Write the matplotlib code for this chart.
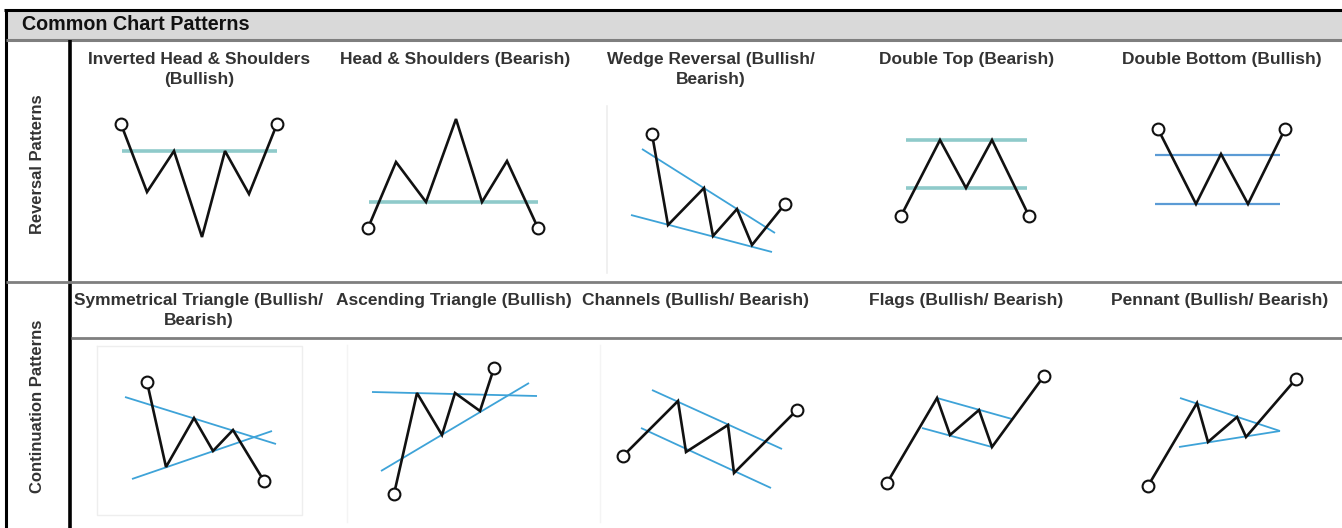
import matplotlib
matplotlib.use("Agg")
import matplotlib.pyplot as plt

plt.rcParams['font.family'] = ['Liberation Sans', 'DejaVu Sans']

# ---------------- data ----------------
header_title = "Common Chart Patterns"
row_labels = ["Reversal Patterns", "Continuation Patterns"]

row1_titles = ["Inverted Head & Shoulders\n(Bullish)", "Head & Shoulders (Bearish)",
               "Wedge Reversal (Bullish/\nBearish)", "Double Top (Bearish)",
               "Double Bottom (Bullish)"]
row2_titles = ["Symmetrical Triangle (Bullish/\nBearish)", "Ascending Triangle (Bullish)",
               "Channels (Bullish/ Bearish)", "Flags (Bullish/ Bearish)",
               "Pennant (Bullish/ Bearish)"]

# price paths (x, y in diagram pixel units, y downward)
inv_hs_path = [(121, 124), (147, 192), (174, 151), (202, 237), (225, 151), (249, 194), (277, 124)]
hs_path = [(368, 228), (396, 162), (426, 202), (456, 119), (482, 202), (507, 161), (538, 228)]
wedge_path = [(652, 134), (668, 225), (704, 188), (713, 236), (737, 209), (752, 245), (785, 204)]
dtop_path = [(901, 216), (940, 140), (966, 188), (992, 140), (1029, 216)]
dbottom_path = [(1158, 129), (1196, 204), (1221, 154), (1248, 204), (1285, 129)]
symtri_path = [(147, 382), (166, 467), (194, 418), (213, 451), (233, 430), (264, 481)]
asctri_path = [(394, 494), (417, 393), (442, 435), (455, 393), (480, 411), (494, 368)]
channel_path = [(623, 456), (678, 401), (686, 452), (728, 425), (734, 473), (797, 410)]
flag_path = [(887, 483), (937, 398), (950, 435), (979, 410), (992, 447), (1044, 376)]
pennant_path = [(1148, 486), (1197, 403), (1208, 442), (1237, 417), (1246, 437), (1296, 379)]

# guide lines: ((x0, y0), (x1, y1))
inv_hs_guides = [((122, 151), (277, 151))]
hs_guides = [((369, 202), (538, 202))]
wedge_guides = [((642, 149), (775, 233)), ((631, 215), (772, 252))]
dtop_guides = [((906, 140), (1027, 140)), ((906, 188), (1027, 188))]
dbottom_guides = [((1155, 155), (1280, 155)), ((1155, 204), (1280, 204))]
symtri_guides = [((125, 397), (276, 444)), ((132, 479), (272, 431))]
asctri_guides = [((372, 392), (537, 396)), ((381, 471), (529, 383))]
channel_guides = [((652, 390), (782, 449)), ((641, 428), (771, 488))]
flag_guides = [((937, 398), (1012, 419)), ((922, 428), (992, 447))]
pennant_guides = [((1180, 398), (1280, 431)), ((1179, 447), (1280, 431))]

# ---------------- styles ----------------
W, H = 1342, 528
TEAL = "#8fcaca"
BLUE = "#3ea3d8"
BLUE2 = "#5b9bd5"
TEXT = "#333333"
LINE_GRAY = "#7f7f7f"

fig = plt.figure(figsize=(W / 100, H / 100), dpi=100)
ax = fig.add_axes([0, 0, 1, 1])
ax.set_xlim(0, W)
ax.set_ylim(H, 0)
ax.axis("off")

# header band
ax.fill_between([6, W], 10, 39, color="#d9d9d9", lw=0, zorder=0)
ax.text(22, 25, header_title, fontsize=14.2, fontweight="bold", color="#111111",
        ha="left", va="center")

# frame lines
ax.plot([4, W], [9.5, 9.5], color="black", lw=2.2, solid_capstyle="butt")
ax.plot([5.5, 5.5], [8.5, H], color="black", lw=2.2, solid_capstyle="butt")
ax.plot([6, W], [40, 40], color=LINE_GRAY, lw=2.2, solid_capstyle="butt")
ax.plot([70, 70], [40, H], color="black", lw=2.6, solid_capstyle="butt")
ax.plot([6, W], [281.5, 281.5], color=LINE_GRAY, lw=2.0, solid_capstyle="butt")
ax.plot([71, W], [337.5, 337.5], color=LINE_GRAY, lw=2.0, solid_capstyle="butt")

# faint image borders
faint = "#eeeeee"
ax.plot([607, 607], [106, 273], color=faint, lw=1.2)
ax.plot([97, 302, 302, 97, 97], [346, 346, 515, 515, 346], color=faint, lw=1.0)
ax.plot([347, 347], [345, 522], color="#f4f4f4", lw=1.0)
ax.plot([600, 600], [345, 522], color="#f4f4f4", lw=1.0)

# row labels
ax.text(38, 164, row_labels[0], rotation=90, fontsize=11.9, fontweight="bold",
        color=TEXT, ha="center", va="center")
ax.text(38, 406, row_labels[1], rotation=90, fontsize=12.0, fontweight="bold",
        color=TEXT, ha="center", va="center")

# titles
row1_cx = [199, 455, 711, 967, 1222]
row2_cx = [199, 454, 695, 966, 1220]
for t, cx in zip(row1_titles, row1_cx):
    ax.text(cx, 52, t, fontsize=12.5, fontweight="bold", color=TEXT, ha="center",
            va="top", multialignment="center", linespacing=1.4)
for t, cx in zip(row2_titles, row2_cx):
    ax.text(cx, 293, t, fontsize=12.5, fontweight="bold", color=TEXT, ha="center",
            va="top", multialignment="center", linespacing=1.4)


def draw_guides(guides, color, lw):
    for (x0, y0), (x1, y1) in guides:
        ax.plot([x0, x1], [y0, y1], color=color, lw=lw, solid_capstyle="butt", zorder=2)


def draw_path(path):
    xs = [p[0] for p in path]
    ys = [p[1] for p in path]
    ax.plot(xs, ys, color="#111111", lw=1.9, solid_joinstyle="miter", zorder=3)
    ax.plot([xs[0], xs[-1]], [ys[0], ys[-1]], linestyle="none", marker="o",
            markersize=8.5, markerfacecolor="white", markeredgecolor="#111111",
            markeredgewidth=1.5, zorder=4)


draw_guides(inv_hs_guides, TEAL, 2.6)
draw_guides(hs_guides, TEAL, 2.6)
draw_guides(wedge_guides, BLUE, 1.3)
draw_guides(dtop_guides, TEAL, 2.6)
draw_guides(dbottom_guides, BLUE2, 1.6)
draw_guides(symtri_guides, BLUE, 1.3)
draw_guides(asctri_guides, BLUE, 1.3)
draw_guides(channel_guides, BLUE, 1.3)
draw_guides(flag_guides, BLUE, 1.3)
draw_guides(pennant_guides, BLUE, 1.3)

for p in [inv_hs_path, hs_path, wedge_path, dtop_path, dbottom_path,
          symtri_path, asctri_path, channel_path, flag_path, pennant_path]:
    draw_path(p)

fig.savefig("out.png", dpi=100)
